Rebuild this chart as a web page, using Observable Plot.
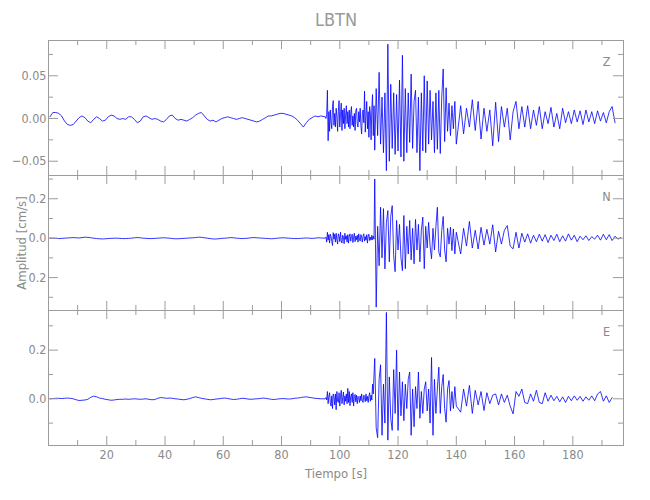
<!DOCTYPE html>
<html>
<head>
<meta charset="utf-8">
<script src="https://cdn.jsdelivr.net/npm/d3@7"></script>
<script src="https://cdn.jsdelivr.net/npm/@observablehq/plot@0.6"></script>
<style>
  html, body { margin: 0; padding: 0; background: #ffffff; }
  #chart { width: 650px; height: 500px; }
  #chart svg { display: block; }
</style>
</head>
<body>
<div id="chart"></div>
<script>
// ---------------- DATA ----------------
// Velocity samples in units of 0.001 cm/s.  Four sampling segments:
//   pre-event   : t = 0.5 s,   step 1 s
//   onset       : t = 95 s,    step 0.25 s
//   strong part : t = 112 s,   step 0.5 s
//   coda        : t = 141.5 s, step 1 s
const title = "LBTN";
const xTitle = "Tiempo [s]";
const yTitle = "Amplitud [cm/s]";
const components = ["Z", "N", "E"];
const valueUnit = 0.001; // cm/s per stored unit
const preStart = 0.5, preStep = 1;
const onsetStart = 95, onsetStep = 0.25;
const strongStart = 112, strongStep = 0.5;
const codaStart = 141.5, codaStep = 1;

const zPre = [
  2,7,7,6,3,-3,-7,-8,-7,-3,
  1,3,1,-3,-5,-1,2,0,-3,-2,
  2,4,3,0,-1,0,-1,2,2,-1,
  -5,-3,2,3,1,-1,0,-1,-3,-4,
  -1,3,4,0,-2,-1,-2,-3,-1,1,
  4,6,7,3,-1,-3,-2,-4,-2,0,
  1,2,1,0,-1,0,1,0,-1,-2,
  -3,-4,-3,-1,1,3,3,4,5,6,
  6,5,4,3,1,-2,-6,-10,-5,-1,
  1,3,2,3
];
const zOnset = [
  2,0,5,33, -26,8,-15,10, -5,-12,14,21, -8,6,-10,12,
  3,-15,8,21, -10,5,18,-14, 10,-6,12,-12, 4,15,-6,8,
  -10,10,-12,6, 14,-8,3,-10, 6,-14,9,12, -6,-10,8,-4,
  12,-8,-18,6, 10,-5,32,-16, 5,20,-12,8, -22,14,6,-25,
  12,28,-20,15
];
const zStrong = [
  -37,35,-20,54,-30,25,
  -40,30,-61,87,-50,40,-35,30,-42,28,
  -38,45,-45,74,-50,35,-40,30,-28,52,
  -35,20,33,-40,25,-61,30,-38,50,-40,
  44,-30,33,-25,20,-40,30,-36,33,-41,
  25,58,-27,36,-15,18,-20,15,-12,20,
  -30
];
const zCoda = [
  15,-18,12,-10,22,-14,20,-24,12,-15,
  10,-32,19,-27,14,-10,12,-25,8,20,
  -12,14,-10,15,-12,10,-8,14,-12,8,
  -6,13,-10,6,-12,12,-5,8,-6,10,
  -4,9,-7,10,-4,8,-6,9,-3,7,
  -5,8,14,-5
];

const nPre = [
  0,0,-1,-2,-1,0,1,2,3,2,
  1,3,5,4,2,0,-2,-3,-4,-3,
  -2,-1,0,0,-1,-2,-2,-1,0,2,
  3,2,0,-1,-2,-2,-1,0,1,2,
  1,0,-2,-3,-3,-2,-1,0,1,2,
  3,5,4,2,0,-2,-4,-4,-3,-1,
  0,1,3,2,0,-1,-2,-1,0,2,
  3,2,1,0,-1,-2,-3,-2,0,1,
  2,1,0,-1,-2,-2,-1,0,1,0,
  -1,0,2,1
];
const nOnset = [
  0,5,-20,30, -10,18,-25,20, 8,-15,-37,28, -5,20,-20,25,
  -8,-30,22,10, -18,30,-12,-25, 15,5,-28,25, -6,12,-20,18,
  -25,10,22,-15, 8,20,-22,5, 25,-18,10,-8, 15,-20,22,-5,
  -15,18,5,-20, 12,22,-15,8, -10,18,-25,10, 20,-12,6,-10,
  15,-8,10,-5
];
const nStrong = [
  300,-350,60,-140,157,-100,
  150,-156,80,140,-120,110,165,-90,-170,90,
  -60,70,-100,-165,115,-155,60,-80,90,-110,
  50,-130,95,-60,70,-120,40,107,-155,60,
  -50,80,-40,-105,50,-60,60,157,-70,-95,
  40,110,-60,-120,50,-30,56,-63,47,-80,
  30
];
const nCoda = [
  -80,50,-40,85,-50,40,-55,55,-35,45,
  -30,68,-70,35,-30,40,64,-40,-54,30,
  -50,25,-20,22,-25,15,-18,20,-15,18,
  -22,15,-12,20,-18,12,-15,22,-10,15,
  -18,10,-8,12,-12,8,-5,15,-10,20,
  -8,18,-12,10,-5,3
];

const ePre = [
  0,1,2,2,1,2,3,2,0,-4,
  -7,-6,-5,-2,6,11,8,3,1,-2,
  -4,-6,-5,-3,-2,-2,-1,-2,-1,0,
  -1,-2,-1,0,-2,-4,-3,2,5,4,
  2,3,2,0,-1,-3,-4,-2,1,5,
  8,5,2,0,-2,-4,-3,-1,0,2,
  3,1,-1,-3,-2,0,2,1,-1,-2,
  -1,0,1,3,2,0,-2,-3,-1,0,
  1,0,-1,0,2,3,5,7,8,6,
  4,2,1,0
];
const eOnset = [
  0,5,-5,30, -20,10,25,-15, -30,12,-40,20, 8,-25,20,-45,
  30,-10,-15,25, -30,10,35,-20, 5,28,-25,12, -10,20,-20,43,
  -15,30,-28,10, 20,-15,25,-30, 8,18,-12,15, -20,10,5,-15,
  12,-8,20,-10, -15,15,5,-12, 20,-8,10,-15, 12,25,-10,15,
  -5,60,20,100
];
const eStrong = [
  166,-120,-160,80,140,-150,
  60,-100,355,-170,90,-80,-130,120,-60,200,
  -130,110,-70,70,-90,60,-40,80,110,-150,
  40,-115,50,-40,110,-80,30,-60,40,70,
  -50,40,-100,170,-150,80,-60,40,130,-60,
  50,100,-40,-96,40,75,-50,30,-40,50,
  -30
];
const eCoda = [
  -55,40,-30,55,-60,35,-25,30,-48,25,
  -20,15,20,-25,20,-15,15,-30,-62,30,
  10,40,-15,-20,20,-10,35,-15,-20,25,
  -10,15,-8,10,-12,8,-15,10,-8,12,
  -6,10,-10,8,-6,12,-8,20,30,-10,
  12,-15,5
];

// Axis ticks and labels
const xDomain = [0, 197.4];
const xMajorTicks = [20, 40, 60, 80, 100, 120, 140, 160, 180];
const xMinorTicks = [10, 30, 50, 70, 90, 110, 130, 150, 170, 190];
const xTickLabels = ["20", "40", "60", "80", "100", "120", "140", "160", "180"];

const zDomain = [-0.0667, 0.0913];
const zMajorTicks = [-0.05, 0, 0.05];
const zMinorTicks = [-0.025, 0.025, 0.075];
const zTickLabels = ["\u22120.05", "0.00", "0.05"];

const nDomain = [-0.367, 0.318];
const nMajorTicks = [-0.2, 0, 0.2];
const nMinorTicks = [-0.3, -0.1, 0.1, 0.3];
const nTickLabels = ["0.2", "0.0", "0.2"];

const eDomain = [-0.192, 0.363];
const eMajorTicks = [0, 0.2];
const eMinorTicks = [-0.1, 0.1, 0.3];
const eTickLabels = ["0.0", "0.2"];

// ---------------- BUILD ----------------
function buildRows(pre, onset, strong, coda) {
  const rows = [];
  const add = (arr, t0, dt) => arr.forEach((v, i) => rows.push({t: t0 + i * dt, v: v * valueUnit}));
  add(pre, preStart, preStep);
  add(onset, onsetStart, onsetStep);
  add(strong, strongStart, strongStep);
  add(coda, codaStart, codaStep);
  return rows;
}

const FONT = "'Liberation Sans Narrow', 'DejaVu Sans Condensed', Roboto, sans-serif";
const GRAY = "#8a8a8a";
const FRAME = "#9c9c9c";
const ML = 48, MR = 27, FH = 135;
const FW = 650 - ML - MR;

function panel(opts) {
  const {rows, domain, major, minor, labels, comp, marginTop, marginBottom, extra} = opts;
  const height = marginTop + FH + marginBottom;
  const marks = [
    Plot.line(rows, {x: "t", y: "v", stroke: "#0000ff", strokeWidth: 0.8, clip: true}),
    Plot.frame({stroke: FRAME, strokeWidth: 1}),
    // x ticks, inside, bottom and top
    Plot.tickX(xMajorTicks, {x: d => d, insetTop: FH - 9, stroke: FRAME}),
    Plot.tickX(xMinorTicks, {x: d => d, insetTop: FH - 5, stroke: FRAME}),
    Plot.tickX(xMajorTicks, {x: d => d, insetBottom: FH - 9, stroke: FRAME}),
    Plot.tickX(xMinorTicks, {x: d => d, insetBottom: FH - 5, stroke: FRAME}),
    // y ticks, inside, left and right
    Plot.tickY(major, {y: d => d, insetRight: FW - 10, stroke: FRAME}),
    Plot.tickY(minor, {y: d => d, insetRight: FW - 5, stroke: FRAME}),
    Plot.tickY(major, {y: d => d, insetLeft: FW - 10, stroke: FRAME}),
    Plot.tickY(minor, {y: d => d, insetLeft: FW - 5, stroke: FRAME}),
    // y tick labels
    Plot.text(major, {y: d => d, text: (d, i) => labels[i], frameAnchor: "left", textAnchor: "end",
      lineAnchor: "middle", dx: -2, fill: GRAY, fontSize: 12.5, fontFamily: FONT}),
    // component label
    Plot.text([comp], {text: d => d, frameAnchor: "top-right", textAnchor: "middle", lineAnchor: "middle",
      dx: -17, dy: 21, fill: GRAY, fontSize: 12.5, fontFamily: FONT}),
    ...(extra || [])
  ];
  return Plot.plot({
    width: 650,
    height,
    marginLeft: ML,
    marginRight: MR,
    marginTop,
    marginBottom,
    style: {background: "#ffffff", fontFamily: FONT, overflow: "visible"},
    x: {domain: xDomain, axis: null},
    y: {domain, axis: null},
    marks
  });
}

const chart = document.getElementById("chart");

chart.appendChild(panel({
  rows: buildRows(zPre, zOnset, zStrong, zCoda), domain: zDomain, major: zMajorTicks, minor: zMinorTicks,
  labels: zTickLabels, comp: components[0], marginTop: 40, marginBottom: 0,
  extra: [Plot.text([title], {text: d => d, frameAnchor: "top", lineAnchor: "middle", dy: -20,
    fill: "#999999", fontSize: 18, fontFamily: FONT})]
}));

chart.appendChild(panel({
  rows: buildRows(nPre, nOnset, nStrong, nCoda), domain: nDomain, major: nMajorTicks, minor: nMinorTicks,
  labels: nTickLabels, comp: components[1], marginTop: 0, marginBottom: 0,
  extra: [Plot.text([yTitle], {text: d => d, frameAnchor: "left", textAnchor: "middle", lineAnchor: "middle",
    dx: -27, rotate: -90, fill: GRAY, fontSize: 13, fontFamily: FONT})]
}));

chart.appendChild(panel({
  rows: buildRows(ePre, eOnset, eStrong, eCoda), domain: eDomain, major: eMajorTicks, minor: eMinorTicks,
  labels: eTickLabels, comp: components[2], marginTop: 0, marginBottom: 55,
  extra: [
    Plot.text(xMajorTicks, {x: d => d, text: (d, i) => xTickLabels[i], frameAnchor: "bottom", lineAnchor: "middle",
      dy: 9, fill: GRAY, fontSize: 12.5, fontFamily: FONT}),
    Plot.text([xTitle], {text: d => d, frameAnchor: "bottom", lineAnchor: "middle", dy: 28,
      fill: GRAY, fontSize: 13, fontFamily: FONT})
  ]
}));
</script>
</body>
</html>
